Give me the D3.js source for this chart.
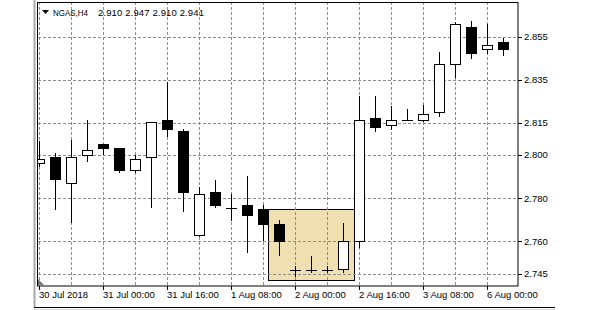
<!DOCTYPE html>
<html>
<head>
<meta charset="utf-8">
<script src="https://cdn.jsdelivr.net/npm/d3@7"></script>
<style>
  body { margin: 0; background: #fff; }
  svg { display: block; }
  text { font-family: "Liberation Sans", Arial, sans-serif; font-size: 9.5px; fill: #000; }
</style>
</head>
<body>
<svg id="chart" width="591" height="310"></svg>
<script>
// NGAS H4 bars, 30 Jul 08:00 .. 6 Aug 04:00
var bars = ["30 Jul 08:00","30 Jul 12:00","30 Jul 16:00","30 Jul 20:00","31 Jul 00:00","31 Jul 04:00",
  "31 Jul 08:00","31 Jul 12:00","31 Jul 16:00","31 Jul 20:00","1 Aug 00:00","1 Aug 04:00",
  "1 Aug 08:00","1 Aug 12:00","1 Aug 16:00","1 Aug 20:00","2 Aug 00:00","2 Aug 04:00",
  "2 Aug 08:00","2 Aug 12:00","2 Aug 16:00","2 Aug 20:00","3 Aug 00:00","3 Aug 04:00",
  "3 Aug 08:00","3 Aug 12:00","3 Aug 16:00","3 Aug 20:00","6 Aug 00:00","6 Aug 04:00"];
var open  = [2.7964,2.7992,2.7871,2.8001,2.8053,2.8035,2.7929,2.7992,2.8163,2.8114,2.7631,2.7831,
  2.7756,2.7770,2.7750,2.7682,2.7469,2.7469,2.7469,2.7472,2.7600,2.8174,2.8140,2.8163,
  2.8163,2.8200,2.8423,2.8595,2.8493,2.8525];
var high  = [2.8064,2.8010,2.8072,2.8165,2.8053,2.8035,2.8002,2.8154,2.8340,2.8122,2.7852,2.7883,
  2.7821,2.7905,2.7770,2.7701,2.7487,2.7534,2.7487,2.7685,2.8276,2.8276,2.8226,2.8216,
  2.8234,2.8477,2.8616,2.8624,2.8606,2.8544];
var low   = [2.7948,2.7750,2.7688,2.7971,2.8007,2.7920,2.7922,2.7758,2.8090,2.7739,2.7623,2.7758,
  2.7697,2.7551,2.7608,2.7538,2.7441,2.7456,2.7456,2.7456,2.7575,2.8110,2.8122,2.8162,
  2.8157,2.8180,2.8361,2.8448,2.8474,2.8463];
var close = [2.7982,2.7890,2.7992,2.8024,2.8032,2.7929,2.7982,2.8154,2.8122,2.7827,2.7820,2.7767,
  2.7755,2.7721,2.7682,2.7600,2.7469,2.7469,2.7469,2.7600,2.8165,2.8129,2.8163,2.8163,
  2.8191,2.8423,2.8606,2.8474,2.8511,2.8493];

var xTickBars   = [0, 4, 8, 12, 16, 20, 24, 28];
var xTickLabels = ["30 Jul 2018","31 Jul 00:00","31 Jul 16:00","1 Aug 08:00","2 Aug 00:00","2 Aug 16:00","3 Aug 08:00","6 Aug 00:00"];
var yTicks = [2.855, 2.835, 2.815, 2.800, 2.780, 2.760, 2.745];

// highlighted rectangle object (bar positions / prices)
var boxBars   = [14.3, 19.7];
var boxPrices = [2.7750, 2.7422];

var symbolText = "NGAS,H4";
var quoteText = "2.910 2.947 2.910 2.941";

(function() {
var svg = d3.select("#chart");
var pLeft = 38, pRight = 518, pTop = 2, pBottom = 286;

var x = d3.scaleLinear().domain([0, 30]).range([39, 519]);
var y = d3.scaleLinear().domain([2.7393, 2.8710]).range([pBottom, pTop]);

var data = bars.map(function(t, i) {
    return {t: t, i: i, o: open[i], h: high[i], l: low[i], c: close[i]};
});

var px = function(v) { return Math.round(v) + 0.5; };

// window edges
svg.append("line").attr("x1", 34.5).attr("x2", 34.5).attr("y1", 0).attr("y2", 308)
    .attr("stroke", "#a8a8a8").attr("stroke-width", 2);
svg.append("line").attr("x1", 34).attr("x2", 555).attr("y1", 307.5).attr("y2", 307.5)
    .attr("stroke", "#000");
svg.append("line").attr("x1", 34).attr("x2", 555).attr("y1", 309.5).attr("y2", 309.5)
    .attr("stroke", "#d8d8d8");

svg.append("clipPath").attr("id", "plotclip")
    .append("rect").attr("x", pLeft).attr("y", pTop).attr("width", pRight - pLeft).attr("height", pBottom - pTop);

var plot = svg.append("g").attr("clip-path", "url(#plotclip)");

// rectangle object
plot.append("rect")
    .attr("x", px(x(boxBars[0])))
    .attr("y", px(y(boxPrices[0])))
    .attr("width", Math.round(x(boxBars[1]) - x(boxBars[0])))
    .attr("height", Math.round(y(boxPrices[1]) - y(boxPrices[0])))
    .attr("fill", "#efdfb1")
    .attr("stroke", "#000");

// grid
var vgrid = d3.range(0, 30, 2);
plot.append("g").selectAll("line").data(vgrid).enter().append("line")
    .attr("x1", d => px(x(d))).attr("x2", d => px(x(d)))
    .attr("y1", pTop).attr("y2", pBottom)
    .attr("stroke", "#8c8c8c").attr("stroke-dasharray", "3,2");
plot.append("g").selectAll("line").data(yTicks).enter().append("line")
    .attr("x1", pLeft).attr("x2", pRight)
    .attr("y1", d => px(y(d))).attr("y2", d => px(y(d)))
    .attr("stroke", "#8c8c8c").attr("stroke-dasharray", "3,2");

// candles
var candles = plot.append("g").selectAll("g").data(data).enter().append("g");
candles.append("line")
    .attr("x1", d => px(x(d.i))).attr("x2", d => px(x(d.i)))
    .attr("y1", d => Math.round(y(d.h))).attr("y2", d => Math.round(y(d.l)) + 1)
    .attr("stroke", "#000");
candles.each(function(d) {
    var g = d3.select(this);
    var cx = Math.round(x(d.i));
    var yo = Math.round(y(d.o)), yc = Math.round(y(d.c));
    if (yo == yc) {
        g.append("line").attr("x1", cx - 5).attr("x2", cx + 6)
            .attr("y1", yo + 0.5).attr("y2", yo + 0.5).attr("stroke", "#000");
    } else {
        g.append("rect")
            .attr("x", cx - 4.5).attr("width", 10)
            .attr("y", Math.min(yo, yc) + 0.5).attr("height", Math.abs(yo - yc))
            .attr("fill", d.c > d.o ? "#fff" : "#000")
            .attr("stroke", "#000");
    }
});

// frame
svg.append("rect").attr("x", pLeft - 0.5).attr("y", pTop + 0.5)
    .attr("width", pRight - pLeft + 0.5).attr("height", pBottom - pTop - 0.5)
    .attr("fill", "none").attr("stroke", "#000");

// shift marker
svg.append("path").attr("d", "M38,279L38,285L44,285Z").attr("fill", "#777");

// price axis
var ya = svg.append("g");
ya.selectAll("line").data(yTicks).enter().append("line")
    .attr("x1", pRight).attr("x2", pRight + 4)
    .attr("y1", d => px(y(d))).attr("y2", d => px(y(d)))
    .attr("stroke", "#000");
ya.selectAll("text").data(yTicks).enter().append("text")
    .attr("x", pRight + 6).attr("y", d => y(d)).attr("dy", "0.35em")
    .text(d => d3.format(".3f")(d));

// time axis
var xa = svg.append("g");
xa.selectAll("line").data(xTickBars).enter().append("line")
    .attr("x1", d => px(x(d))).attr("x2", d => px(x(d)))
    .attr("y1", pBottom).attr("y2", pBottom + 4)
    .attr("stroke", "#000");
xa.selectAll("text").data(xTickBars).enter().append("text")
    .attr("x", d => x(d)).attr("y", 297.5)
    .text((d, i) => xTickLabels[i]);

// title
svg.append("path").attr("d", "M42,10L49,10L45.5,14Z").attr("fill", "#000");
svg.append("text").attr("x", 53).attr("y", 15.5)
    .attr("textLength", 35).attr("lengthAdjust", "spacingAndGlyphs").text(symbolText);
svg.append("text").attr("x", 98).attr("y", 15.5)
    .attr("textLength", 106).attr("lengthAdjust", "spacing").text(quoteText);
})();
</script>
</body>
</html>
